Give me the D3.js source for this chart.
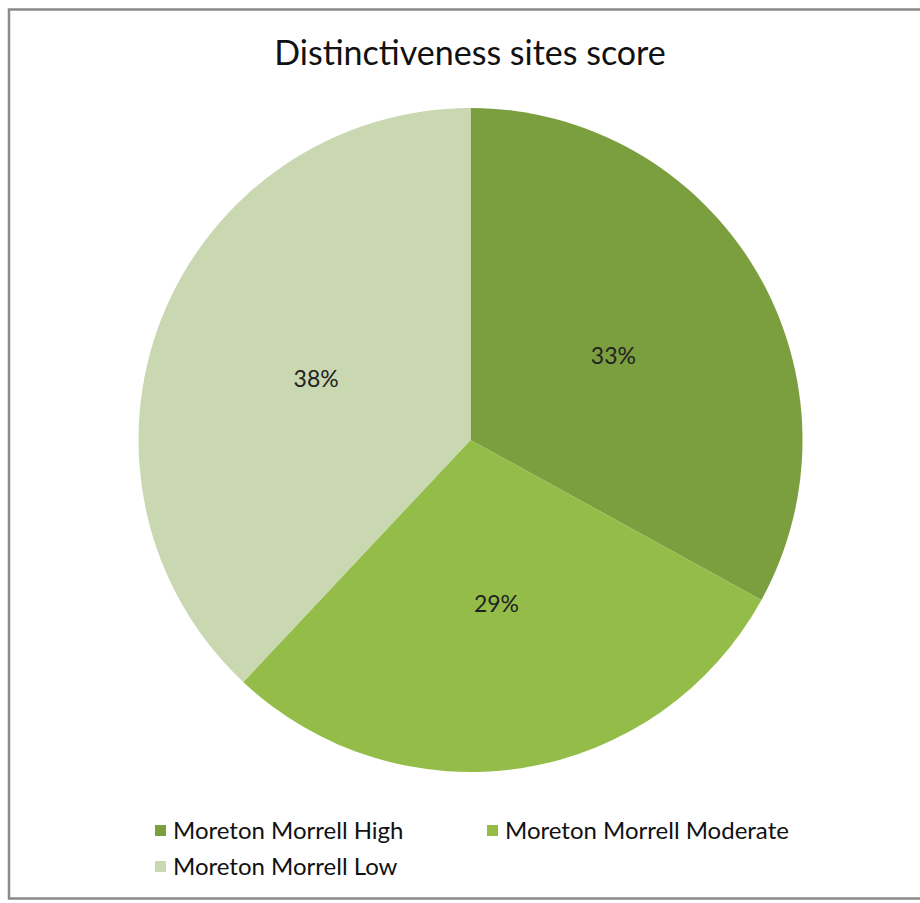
<!DOCTYPE html>
<html><head><meta charset="utf-8">
<script src="https://cdn.jsdelivr.net/npm/d3@7"></script>
<style>body{margin:0;background:#fff}</style>
</head><body>
<script>
const categories = ["Moreton Morrell High", "Moreton Morrell Moderate", "Moreton Morrell Low"];
const values = [33, 29, 38];
const colors = ["#7b9e3e", "#93bd48", "#c9d8b0"];
const title = "Distinctiveness sites score";

const W = 920, H = 903;
const svg = d3.select("body").append("svg").attr("width", W).attr("height", H);
svg.append("rect").attr("x",0).attr("y",0).attr("width",W).attr("height",H).attr("fill","#fff");
svg.append("rect").attr("x",9).attr("y",9.5).attr("width",W+20).attr("height",889)
  .attr("fill","#fff").attr("stroke","#8a8a8a").attr("stroke-width",2.5);

const font = "Lato, Calibri, 'Noto Sans', sans-serif";
svg.append("text").attr("x",470).attr("y",65).attr("text-anchor","middle")
  .attr("font-family",font).attr("font-size",34).attr("fill","#111").text(title);

const cx = 470.5, cy = 440, r = 332;
const data = categories.map((c,i)=>({cat:c, value:values[i], color:colors[i]}));
const pie = d3.pie().value(d=>d.value).sort(null);
const arc = d3.arc().innerRadius(0).outerRadius(r);
const labelArc = d3.arc().innerRadius(r*0.5).outerRadius(r*0.5);
const color = d3.scaleOrdinal().domain(categories).range(colors);
const g = svg.append("g").attr("transform",`translate(${cx},${cy})`);
const arcs = pie(data);
g.selectAll("path").data(arcs).join("path").attr("d",arc).attr("fill",d=>color(d.data.cat));
const total = d3.sum(values);
g.selectAll("text").data(arcs).join("text")
  .attr("transform",d=>`translate(${labelArc.centroid(d)})`)
  .attr("text-anchor","middle").attr("dy","0.35em")
  .attr("font-family",font).attr("font-size",23).attr("fill","#222")
  .text(d=>Math.round(d.data.value/total*100)+"%");

const legendPos = [[155,825],[487,825],[155,861]];
const lg = svg.append("g");
data.forEach((d,i)=>{
  const [x,y] = legendPos[i];
  lg.append("rect").attr("x",x).attr("y",y).attr("width",11).attr("height",11).attr("fill",color(d.cat));
  lg.append("text").attr("x",x+18).attr("y",y+14).attr("font-family",font).attr("font-size",24)
    .attr("fill","#111").text(d.cat);
});
</script>
</body></html>
